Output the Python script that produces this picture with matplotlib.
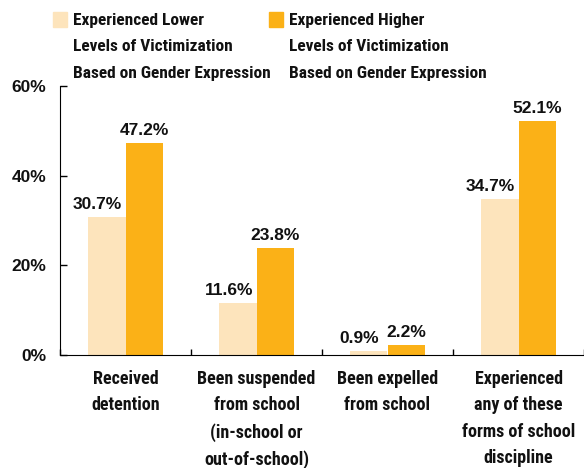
import matplotlib
matplotlib.use("Agg")
import matplotlib.pyplot as plt
import matplotlib.patches as mpatches
import numpy as np

plt.rcParams['font.family'] = ['Roboto Condensed', 'DejaVu Sans']
NUM_FONT = ['Liberation Sans', 'DejaVu Sans']

categories = ["Received\ndetention", "Been suspended\nfrom school\n(in-school or\nout-of-school)",
              "Been expelled\nfrom school", "Experienced\nany of these\nforms of school\ndiscipline"]
lower = [30.7, 11.6, 0.9, 34.7]
higher = [47.2, 23.8, 2.2, 52.1]
series_names = ["Experienced Lower\nLevels of Victimization\nBased on Gender Expression",
                "Experienced Higher\nLevels of Victimization\nBased on Gender Expression"]
yticks = [0, 20, 40, 60]
ytick_labels = ["0%", "20%", "40%", "60%"]

c_low = "#FDE4BC"
c_high = "#FBB117"

fig = plt.figure(figsize=(5.84, 4.68), dpi=100)
ax = fig.add_axes([60/584, 1-355/468, 1-60/584, (355-86)/468])

x = np.arange(len(categories))
w = 0.285
b1 = ax.bar(x - w/2, lower, w, color=c_low)
b2 = ax.bar(x + w/2, higher, w, color=c_high)
for rect, v in zip(b1, lower):
    ax.text(rect.get_x() + rect.get_width()/2 - 0.07, v + 1.8, f"{v}%", ha="center", va="baseline",
            fontsize=12.5, fontweight="bold", color="#111111", family=NUM_FONT)
for rect, v in zip(b2, higher):
    ax.text(rect.get_x() + rect.get_width()/2, v + 1.8, f"{v}%", ha="center", va="baseline",
            fontsize=12.5, fontweight="bold", color="#111111", family=NUM_FONT)

ax.set_xlim(-0.5, 3.5)
ax.set_ylim(0, 60)
ax.set_yticks(yticks)
ax.set_yticklabels(ytick_labels, fontsize=12.5, fontweight="bold", family=NUM_FONT, color="#111111")
ax.set_xticks(np.arange(-0.5, 4.0, 1.0))
ax.set_xticklabels([])
ax.tick_params(axis="x", direction="in", length=4, width=1)
ax.tick_params(axis="y", direction="in", length=5, width=1, pad=10)
for t, lab in zip(x, categories):
    ax.text(t, -3.3, lab, ha="center", va="top", fontsize=13, fontweight="bold",
            linespacing=1.6, transform=ax.transData, color="#111111")
ax.spines["top"].set_visible(False)
ax.spines["right"].set_visible(False)

# legend
for xs, name, col in [(53, series_names[0], c_low), (269, series_names[1], c_high)]:
    fig.patches.append(mpatches.Rectangle((xs/584, 1-27/468), 14/584, 15/468,
                                          transform=fig.transFigure, color=col))
    fig.text((xs+20)/584, 1-13/468, name, ha="left", va="top", fontsize=12.5, fontweight="bold",
             linespacing=1.95, color="#111111")

fig.savefig("out.png", dpi=100)
